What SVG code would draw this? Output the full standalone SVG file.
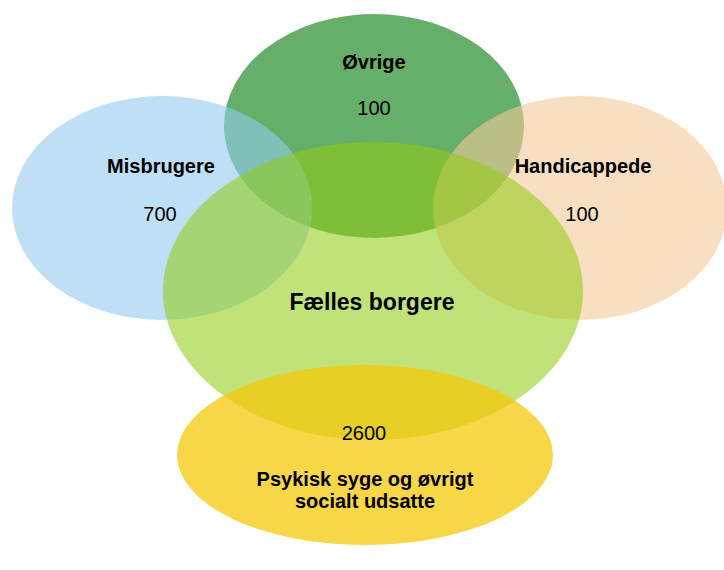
<svg xmlns="http://www.w3.org/2000/svg" width="724" height="570" viewBox="0 0 724 570">
<style>
text{font-family:"Liberation Sans",Arial,sans-serif;font-size:20px;fill:#000;text-anchor:middle}
.lbl{font-weight:bold}
.big{font-weight:bold;font-size:23px}
</style>
<rect width="724" height="570" fill="#fff"/>
<g id="ovrige">
<ellipse cx="374" cy="126" rx="150" ry="112" fill="rgb(102,175,106)"/>
<text class="lbl" x="374" y="69">Øvrige</text>
<text x="374" y="115">100</text>
</g>
<g id="misbrugere">
<ellipse cx="162" cy="208" rx="150" ry="112" fill="rgb(146,202,238)" fill-opacity="0.6"/>
<text class="lbl" x="161" y="173">Misbrugere</text>
<text x="160" y="221">700</text>
</g>
<g id="handicappede">
<ellipse cx="580" cy="208" rx="147" ry="112" fill="rgb(243,202,153)" fill-opacity="0.6"/>
<text class="lbl" x="583" y="173">Handicappede</text>
<text x="582" y="221">100</text>
</g>
<g id="faelles">
<ellipse cx="373" cy="291" rx="210" ry="149" fill="rgb(146,204,20)" fill-opacity="0.57"/>
<text class="big" x="372" y="310">Fælles borgere</text>
</g>
<g id="psykisk">
<ellipse cx="365" cy="455" rx="188" ry="90" fill="rgb(244,200,8)" fill-opacity="0.74"/>
<text x="364" y="440">2600</text>
<text class="lbl" x="365" y="486">Psykisk syge og øvrigt</text>
<text class="lbl" x="365" y="508">socialt udsatte</text>
</g>
</svg>
